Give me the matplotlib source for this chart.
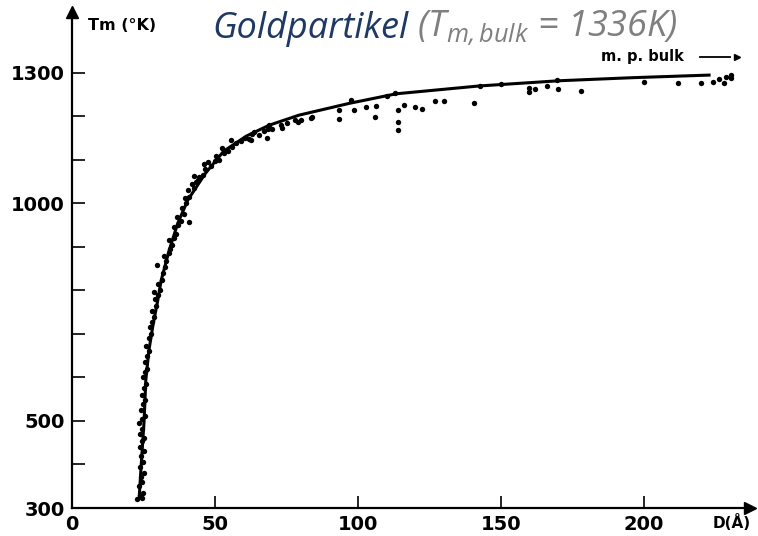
import matplotlib.pyplot as plt

plt.rcParams['mathtext.fontset'] = 'custom'
plt.rcParams['mathtext.it'] = 'Open Sans:italic:stretch=normal'
plt.rcParams['mathtext.rm'] = 'Open Sans:italic:stretch=normal'

# measured melting points of gold particles: diameter D (Angstrom), Tm (K)
d_meas = [22.8, 24.6, 23.8, 24.9, 23.5, 24.6, 24.0, 25.0, 23.7, 24.8, 24.2, 25.2,
          23.6, 24.5, 25.3, 23.9, 24.6, 23.4, 24.3, 25.4, 24.0, 24.8, 25.6, 24.3,
          25.2, 25.8, 24.9, 25.6, 26.3, 25.4, 26.2, 26.9, 26.0, 26.8, 27.5, 27.2,
          28.0, 28.6, 28.0, 29.3, 29.0, 30.0, 30.6, 30.2, 31.3, 31.8, 32.5, 33.0,
          32.2, 33.8, 34.4, 35.0, 34.0, 35.8, 36.5, 35.5, 37.0, 38.0, 36.8, 39.0,
          38.5, 40.0, 39.5, 41.0, 40.5, 42.5, 41.8, 43.5, 44.5, 45.8, 46.5, 48.5,
          47.5, 50.0, 51.5, 50.5, 53.0, 54.5, 52.5, 56.0, 57.5, 55.5, 59.0, 60.5,
          62.0, 63.0, 65.5, 67.0, 68.5, 70.0, 73.0, 75.0, 78.0,
          29.7, 28.7, 41.0, 44.0, 42.8, 46.2, 62.6, 63.6, 68.0, 69.0, 73.4, 79.0,
          83.6, 80.0, 84.0, 93.4, 93.4, 97.6, 98.6, 102.8, 106.0, 106.3, 110.0,
          113.0, 114.0, 114.0, 114.0, 116.0, 120.0, 122.4, 127.0, 130.0, 140.6,
          142.7, 150.0, 159.8, 159.8, 162.0, 166.0, 169.6, 170.0, 178.0, 200.0,
          212.0, 220.0, 224.0, 226.0, 228.0, 228.7, 230.4, 230.4]
t_meas = [320, 322, 330, 335, 350, 360, 372, 380, 395, 405, 420, 430,
          440, 455, 462, 470, 482, 495, 505, 512, 525, 540, 548, 560,
          575, 585, 600, 612, 620, 635, 650, 660, 672, 690, 700, 715,
          728, 740, 752, 765, 780, 790, 800, 815, 825, 840, 855, 868,
          880, 885, 895, 905, 915, 920, 930, 945, 950, 960, 968, 975,
          990, 1000, 1012, 1015, 1030, 1035, 1045, 1050, 1060, 1065, 1080, 1085,
          1095, 1098, 1100, 1110, 1115, 1120, 1128, 1130, 1140, 1145, 1143, 1150,
          1148, 1160, 1158, 1167, 1172, 1170, 1180, 1185, 1192,
          859, 797, 957, 1054, 1062, 1090, 1146, 1164, 1150, 1180, 1173, 1187,
          1197, 1192, 1199, 1194, 1215, 1238, 1215, 1222, 1199, 1224, 1247,
          1254, 1215, 1187, 1169, 1226, 1222, 1217, 1236, 1236, 1231,
          1270, 1275, 1256, 1265, 1263, 1270, 1284, 1263, 1259, 1279,
          1277, 1277, 1279, 1286, 1277, 1291, 1295, 1288]

# smooth trend curve through the measurements
d_fit = [23.5, 24.2, 25.2, 25.8, 26.9, 28.3, 30.0, 31.2, 34.0, 37.0, 40.5, 46.5,
         53.0, 61.0, 69.0, 79.4, 96.9, 113.3, 142.3, 170.3, 195.8, 222.7]
t_fit = [325, 400, 500, 594, 663, 720, 778, 824, 893, 955, 1008, 1068,
         1120, 1155, 1180, 1203, 1230, 1252, 1270, 1282, 1289, 1295]

x_ticks = [0, 50, 100, 150, 200]
y_ticks = [300, 400, 500, 600, 700, 800, 900, 1000, 1100, 1200, 1300]
y_labels = ['300', '', '500', '', '', '', '', '1000', '', '', '1300']

W, H = 758, 536
fig = plt.figure(figsize=(W / 100, H / 100), dpi=100)
ax = fig.add_axes([72 / W, 28 / H, (750 - 72) / W, (508 - 12) / H])

ax.plot(d_fit, t_fit, color='black', lw=2.2, zorder=2)
ax.scatter(d_meas, t_meas, s=15, color='black', zorder=3, linewidths=0)

ax.set_xlim(0, 237)
ax.set_ylim(300, 1440)
for s in ['top', 'right']:
    ax.spines[s].set_visible(False)
for s in ['left', 'bottom']:
    ax.spines[s].set_linewidth(1.6)

# arrow heads on the axes
ax.plot(1, 0, '>k', ms=8, transform=ax.transAxes, clip_on=False)
ax.plot(0, 1, '^k', ms=8, transform=ax.transAxes, clip_on=False)

ax.set_xticks(x_ticks)
ax.set_xticklabels([str(v) for v in x_ticks])
ax.set_yticks(y_ticks)
ax.set_yticklabels(y_labels)
ax.tick_params(direction='in', length=9, width=1.2, labelsize=14, pad=5)
for lbl in ax.get_xticklabels() + ax.get_yticklabels():
    lbl.set_fontweight('bold')

fig.text(88 / W, 1 - 25 / H, 'Tm (°K)', fontsize=11.5, fontweight='bold',
         ha='left', va='center')
fig.text(713 / W, 1 - 523 / H, 'D(Å)', fontsize=11, fontweight='bold',
         ha='left', va='center')
fig.text(601 / W, 1 - 56 / H, 'm. p. bulk', fontsize=10.5, fontweight='bold',
         ha='left', va='center')
fig.add_artist(plt.Line2D([700 / W, 730 / W], [1 - 57 / H, 1 - 57 / H],
                          color='black', lw=1.3))
fig.add_artist(plt.Line2D([737 / W], [1 - 57 / H], marker='>', ms=5,
                          color='black'))

t1 = fig.text(212 / W, 1 - 38 / H, 'Goldpartikel', fontsize=26,
              family='Open Sans', style='italic', stretch='normal',
              color='#1f3864', ha='left', va='baseline')
ax.annotate(' (T$_{m,bulk}$ = 1336K)', xy=(1, 0), xycoords=t1,
            fontsize=26, family='Open Sans', style='italic', stretch='normal',
            color='#7f7f7f', ha='left', va='bottom', annotation_clip=False)

fig.savefig('out.png', dpi=100)
